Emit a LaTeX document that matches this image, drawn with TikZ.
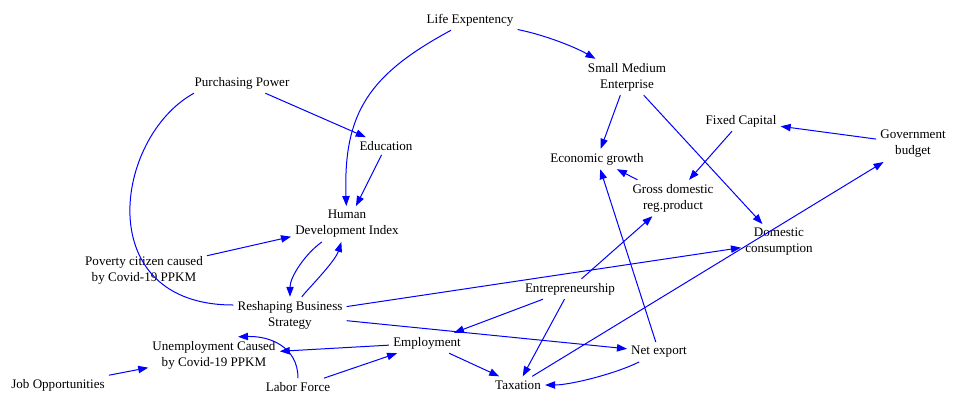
\documentclass[tikz,border=0pt]{standalone}
\usepackage{fontspec}
\setmainfont{Liberation Serif}
\usetikzlibrary{arrows.meta}

\tikzset{
  var/.style={align=center, inner sep=3pt, font=\fontsize{9.8}{12}\selectfont},
  link/.style={draw=blue, line width=0.75pt, -{Triangle[length=7.5pt,width=5.5pt,fill=blue]}},
  plainlink/.style={draw=blue, line width=0.75pt}
}

\begin{document}
\begin{tikzpicture}[x=0.75pt, y=-0.75pt]
    \useasboundingbox (0,0) rectangle (954,394);

    \node[var] (life) at (470,20) {Life Expentency};
    \node[var] (pp) at (242,83) {Purchasing Power};
    \node[var] (sme) at (627,77) {Small Medium\\Enterprise};
    \node[var] (edu) at (386,146) {Education};
    \node[var] (fixcap) at (741,121) {Fixed Capital};
    \node[var] (gov) at (913,144) {Government\\budget};
    \node[var] (econ) at (597,159) {Economic growth};
    \node[var] (gdrp) at (673,198) {Gross domestic\\reg.product};
    \node[var] (hdi) at (347,224) {Human\\Development Index};
    \node[var] (dom) at (779,242) {Domestic\\consumption};
    \node[var] (pov) at (144,270) {Poverty citizen caused\\by Covid-19 PPKM};
    \node[var] (entre) at (570,289) {Entrepreneurship};
    \node[var] (rbs) at (290,315) {Reshaping Business\\Strategy};
    \node[var] (unemp) at (214,355) {Unemployment Caused\\by Covid-19 PPKM};
    \node[var] (emp) at (427,343) {Employment};
    \node[var] (netx) at (659,352) {Net export};
    \node[var] (jobs) at (58,385) {Job Opportunities};
    \node[var] (labor) at (298,387) {Labor Force};
    \node[var] (tax) at (518,385) {Taxation};

    % curved links
    \draw[link] (life) .. controls +(75,15) and +(-52,-30) .. (sme);
    \draw[link] (life) .. controls +(-100,54) and +(-4,-112) .. (hdi);
    \draw[plainlink] (pp.192) .. controls +(-80,44) and +(-143,0) .. (rbs.170);
    \draw[link] (hdi) .. controls +(-42,30) and +(0,-38) .. (rbs);
    \draw[link] (rbs) .. controls +(15,-23) and +(-12,38) .. (hdi);
    \draw[link] (labor) .. controls +(0,-40) and +(32,-1) .. ([xshift=18pt]unemp.north);
    \draw[link] (netx) .. controls +(-44,22) and +(52,0) .. (tax);

    % straight links
    \draw[link] (pp) -- (edu);
    \draw[link] (edu) -- (hdi);
    \draw[link] (pov) -- (hdi);
    \draw[link] (rbs) -- (dom);
    \draw[link] (rbs) -- (netx);
    \draw[link] (sme) -- (econ);
    \draw[link] (sme) -- (dom);
    \draw[link] (fixcap) -- (gdrp);
    \draw[link] (gov) -- (fixcap);
    \draw[link] (gdrp) -- (econ);
    \draw[link] (netx) -- (econ);
    \draw[link] (entre) -- (gdrp);
    \draw[link] (entre) -- (emp);
    \draw[link] (entre) -- (tax);
    \draw[link] (tax) -- (gov);
    \draw[link] (emp) -- (tax);
    \draw[link] (emp) -- (unemp);
    \draw[link] (labor) -- (emp);
    \draw[link] (jobs) -- (unemp);
\end{tikzpicture}
\end{document}
